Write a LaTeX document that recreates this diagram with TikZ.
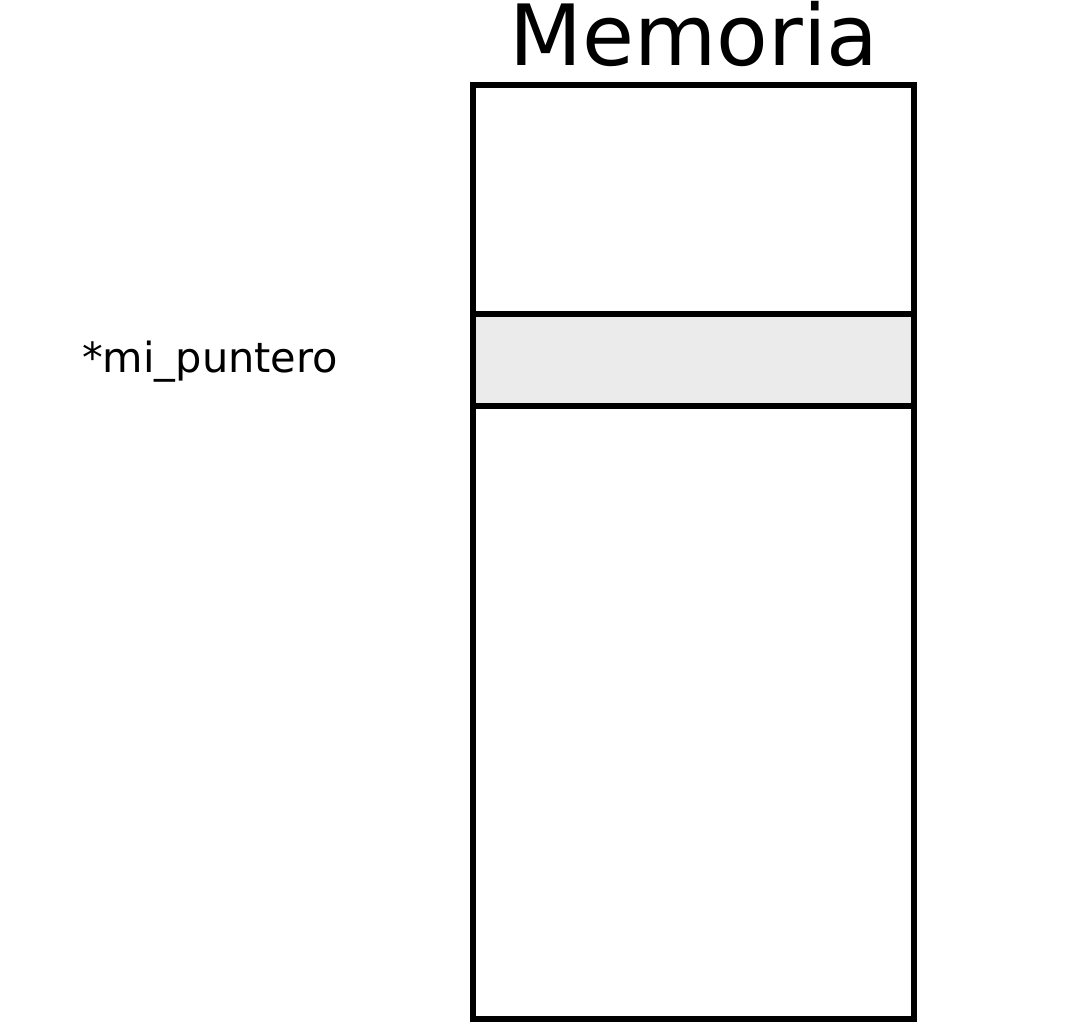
\documentclass[tikz,border=0pt]{standalone}
\usepackage{fontspec}
\setmainfont{DejaVu Sans}
\begin{document}
\begin{tikzpicture}[x=1pt,y=-1pt,
  memline/.style={line width=6pt, draw=black},
  cellfill/.style={fill=black!8}]
\useasboundingbox (0,0) rectangle (1092,1023);
\node[inner sep=0pt, anchor=base, font=\fontsize{84.5}{92}\selectfont] (title) at (694,65) {Memoria};
\node[inner sep=0pt, anchor=base west, font=\fontsize{41.5}{48}\selectfont] (ptr) at (82,372) {*mi\_puntero};
\draw[memline] (473,85) rectangle (914,1019);
\draw[memline, cellfill] (473,314) rectangle (914,406);
\coordinate (cell) at (693,360);
\end{tikzpicture}
\end{document}
